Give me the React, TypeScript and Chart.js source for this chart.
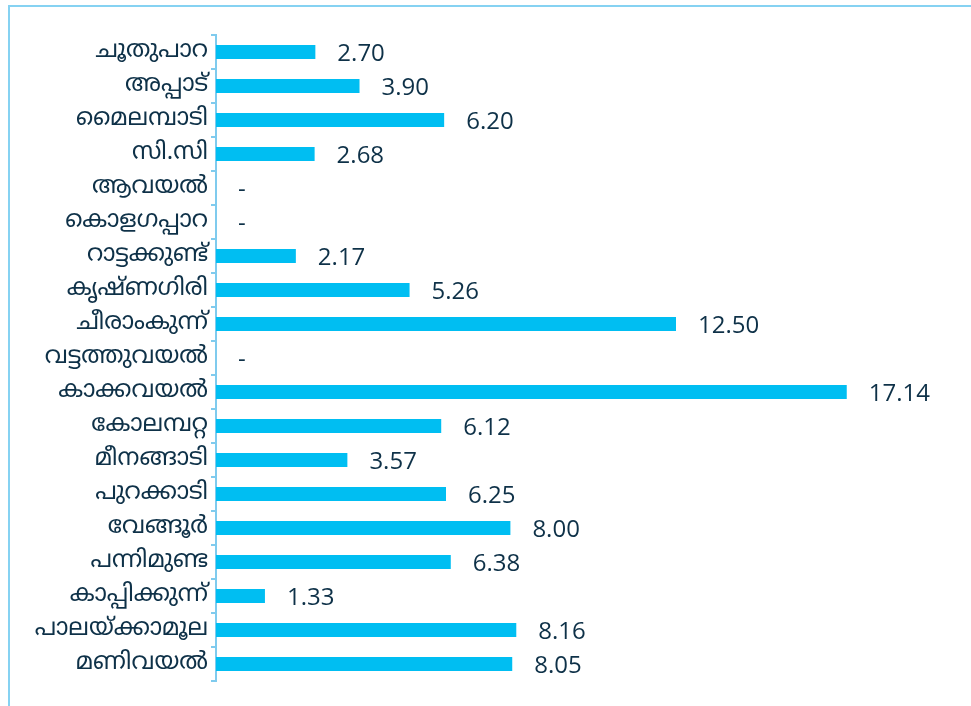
import React, { useEffect, useRef } from "react";
import { Chart, registerables } from "chart.js";

Chart.register(...registerables);

const categories: string[] = [
  "ചൂതുപാറ",
  "അപ്പാട്",
  "മൈലമ്പാടി",
  "സി.സി",
  "ആവയൽ",
  "കൊളഗപ്പാറ",
  "റാട്ടക്കുണ്ട്",
  "കൃഷ്ണഗിരി",
  "ചീരാംകുന്ന്",
  "വട്ടത്തുവയൽ",
  "കാക്കവയൽ",
  "കോലമ്പറ്റ",
  "മീനങ്ങാടി",
  "പുറക്കാടി",
  "വേങ്ങൂർ",
  "പന്നിമുണ്ട",
  "കാപ്പിക്കുന്ന്",
  "പാലയ്ക്കാമൂല",
  "മണിവയൽ",
];

const values: number[] = [
  2.7, 3.9, 6.2, 2.68, 0, 0, 2.17, 5.26, 12.5, 0, 17.14, 6.12, 3.57, 6.25, 8.0,
  6.38, 1.33, 8.16, 8.05,
];

const valueLabels: string[] = [
  "2.70", "3.90", "6.20", "2.68", "-", "-", "2.17", "5.26", "12.50", "-",
  "17.14", "6.12", "3.57", "6.25", "8.00", "6.38", "1.33", "8.16", "8.05",
];

const BAR_COLOR = "#00BEF2";
const TEXT_COLOR = "#0E3148";
const AXIS_COLOR = "#7FCBEE";
const FRAME_COLOR = "#86D2F2";

const framePlugin = {
  id: "frame",
  beforeDraw(chart: any) {
    const ctx = chart.ctx;
    ctx.save();
    ctx.fillStyle = "#ffffff";
    ctx.fillRect(0, 0, chart.width, chart.height);
    ctx.strokeStyle = FRAME_COLOR;
    ctx.lineWidth = 2;
    ctx.beginPath();
    ctx.moveTo(9, chart.height + 5);
    ctx.lineTo(9, 6);
    ctx.lineTo(chart.width + 5, 6);
    ctx.stroke();
    ctx.restore();
  },
};

const valueLabelPlugin = {
  id: "valueLabels",
  afterDatasetsDraw(chart: any) {
    const ctx = chart.ctx;
    const meta = chart.getDatasetMeta(0);
    ctx.save();
    ctx.fillStyle = TEXT_COLOR;
    ctx.font = "24px 'Open Sans', 'Noto Sans', sans-serif";
    ctx.textAlign = "left";
    ctx.textBaseline = "middle";
    meta.data.forEach((bar: any, i: number) => {
      ctx.fillText(valueLabels[i], bar.x + 22, bar.y + 2);
    });
    ctx.restore();
  },
};

export default function App() {
  const canvasRef = useRef<HTMLCanvasElement | null>(null);

  useEffect(() => {
    const canvas = canvasRef.current;
    if (!canvas) return;
    const chart = new Chart(canvas, {
      type: "bar",
      data: {
        labels: categories,
        datasets: [
          {
            data: values,
            backgroundColor: BAR_COLOR,
            borderWidth: 0,
            barPercentage: 0.41,
            categoryPercentage: 1,
          },
        ],
      },
      options: {
        indexAxis: "y",
        animation: false,
        responsive: false,
        maintainAspectRatio: false,
        layout: { padding: { top: 35, bottom: 25, left: 0, right: 19 } },
        plugins: {
          legend: { display: false },
          tooltip: { enabled: false },
          title: { display: false },
        },
        scales: {
          x: {
            display: false,
            min: 0,
            max: 20,
          },
          y: {
            afterFit(scale: any) {
              scale.width = 216;
            },
            border: { display: true, color: AXIS_COLOR, width: 2 },
            grid: {
              display: true,
              drawOnChartArea: false,
              drawTicks: true,
              tickLength: 5,
              color: AXIS_COLOR,
              lineWidth: 2,
              offset: true,
            },
            ticks: {
              color: TEXT_COLOR,
              padding: 3,
              font: { size: 24, family: "'Noto Sans Malayalam', 'Noto Sans', sans-serif" },
            },
          },
        },
      },
      plugins: [framePlugin, valueLabelPlugin],
    });
    return () => chart.destroy();
  }, []);

  return (
    <div style={{ position: "fixed", left: 0, top: 0, width: 971, height: 706, overflow: "hidden", background: "#fff" }}>
      <canvas ref={canvasRef} width={971} height={706} style={{ display: "block", width: 971, height: 706 }} />
    </div>
  );
}
